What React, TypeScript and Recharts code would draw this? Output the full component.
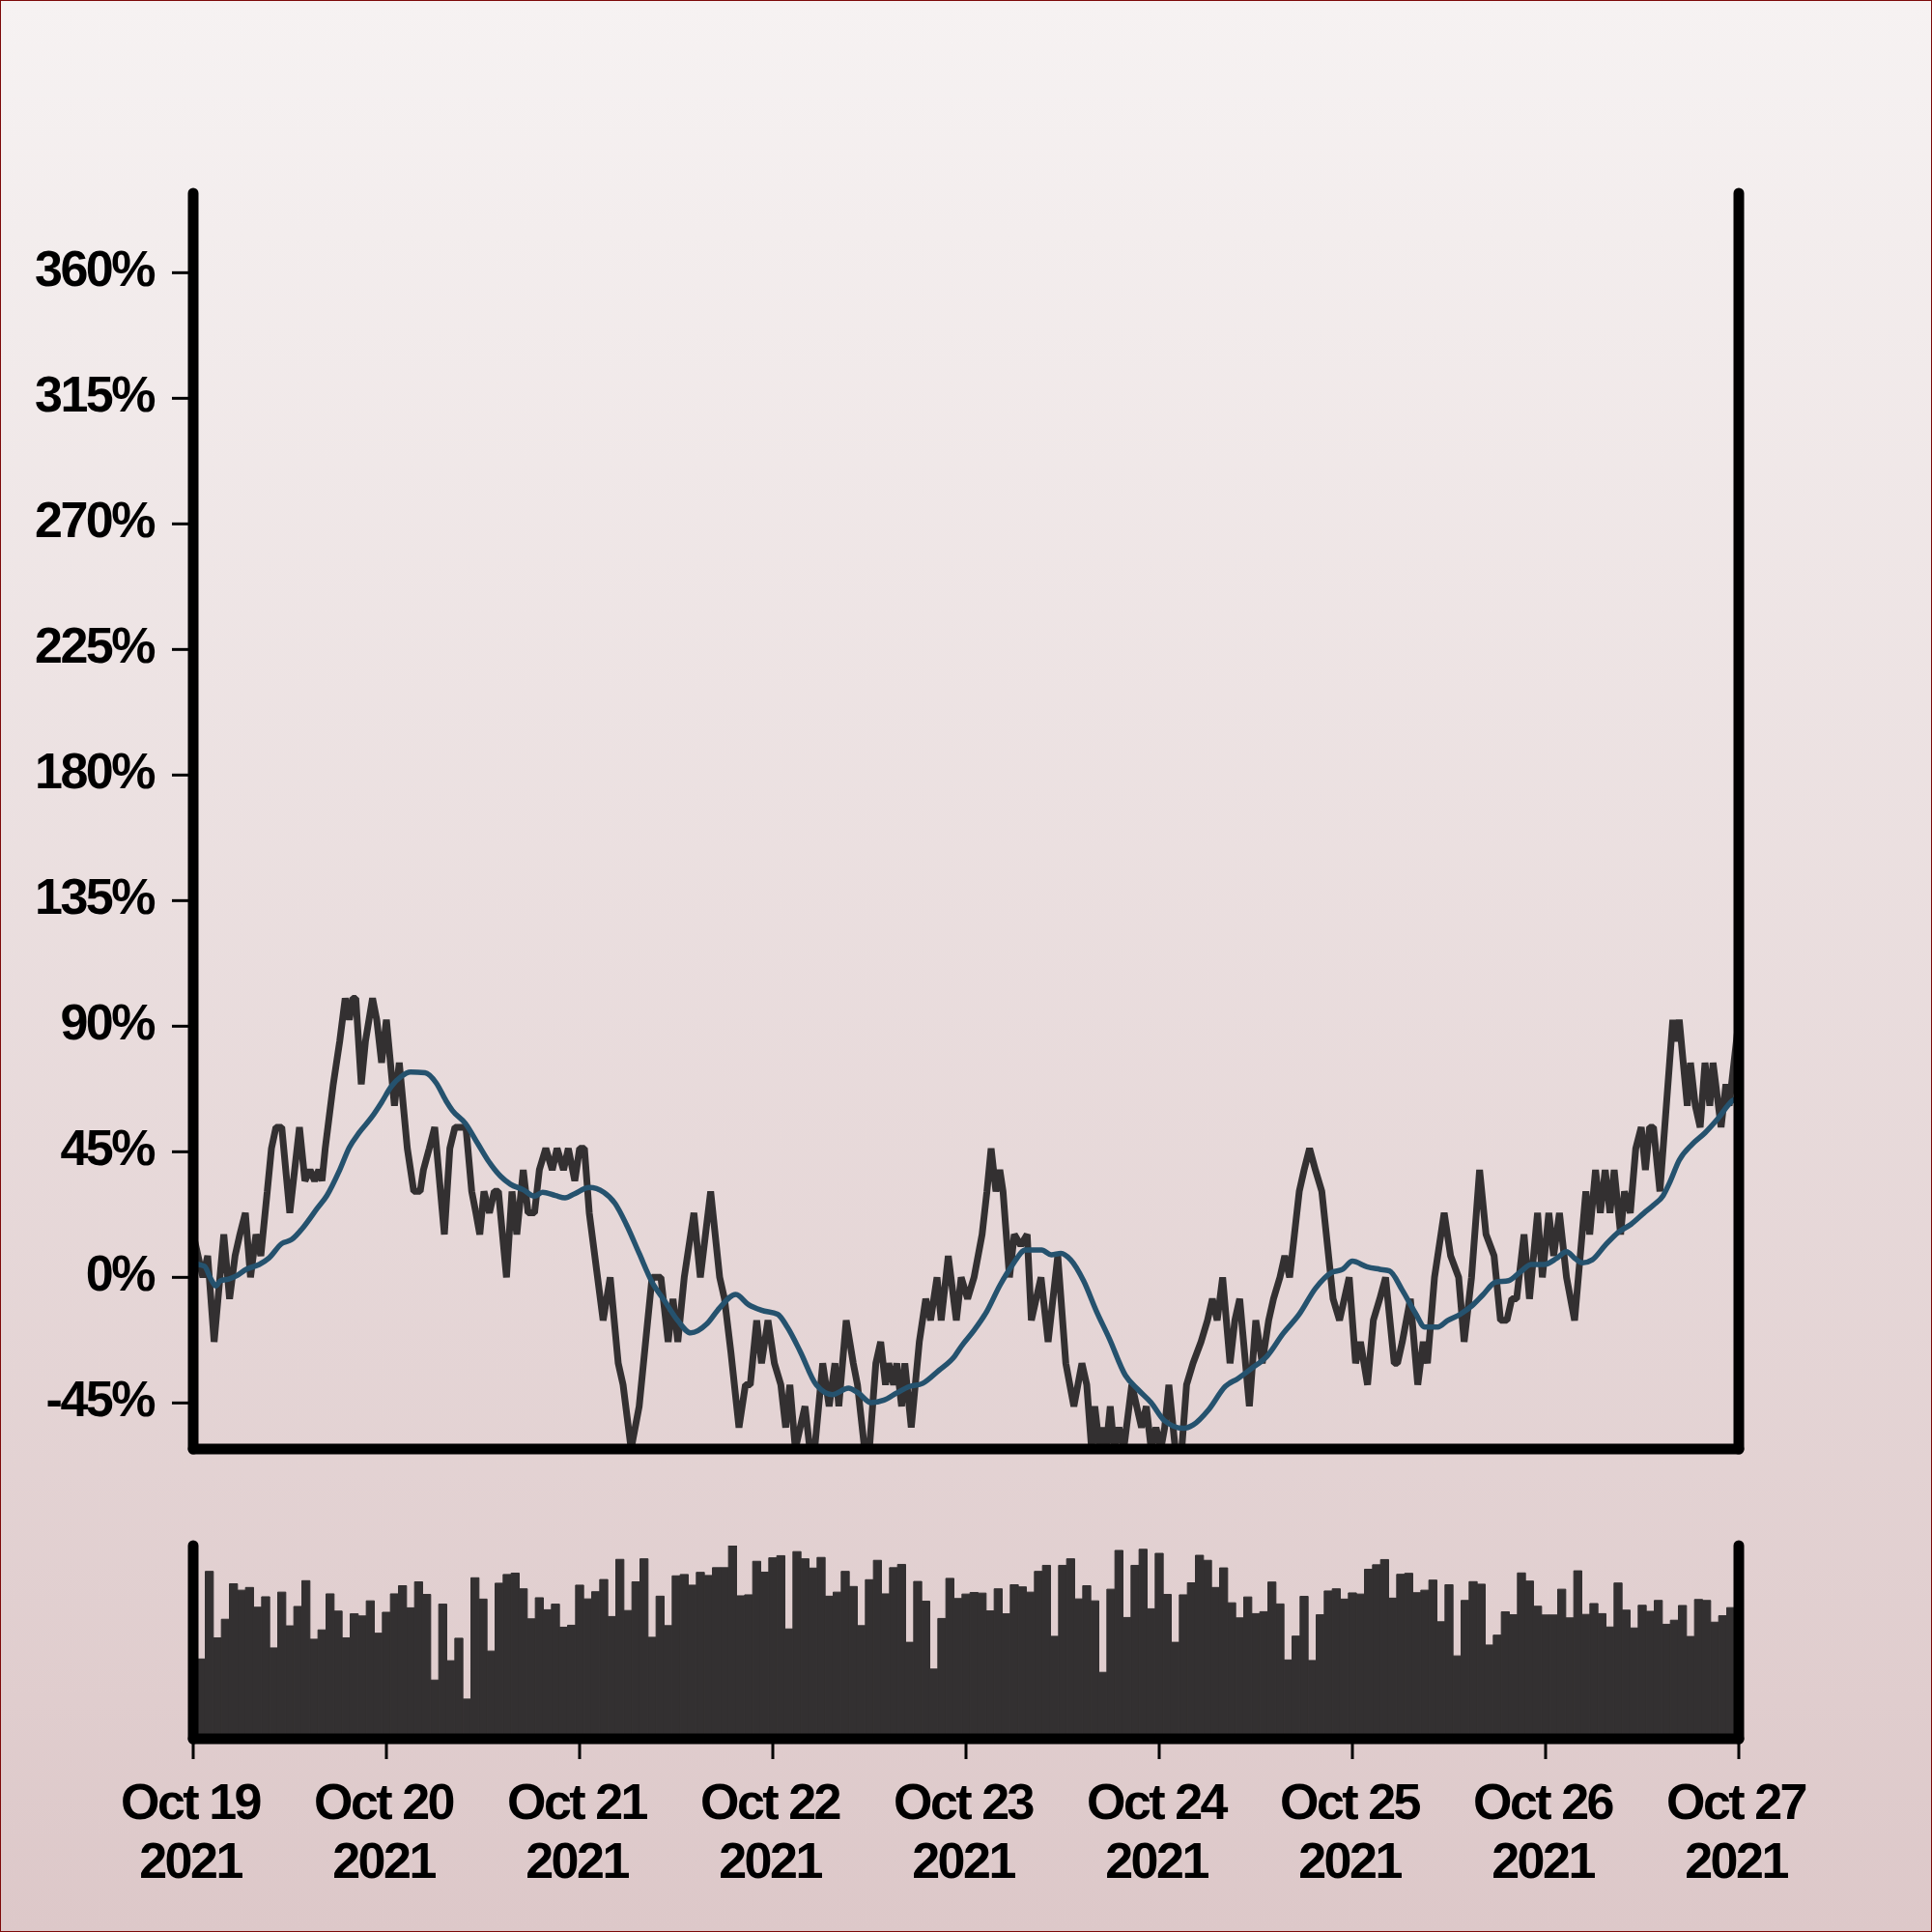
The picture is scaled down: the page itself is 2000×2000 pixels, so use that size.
import React from 'react';
import { ComposedChart, Line, Bar, XAxis, YAxis } from 'recharts';

// ---- axis labels ----
const dayTicks = [0, 24, 48, 72, 96, 120, 144, 168, 192];
const dayLabels = ['Oct 19', 'Oct 20', 'Oct 21', 'Oct 22', 'Oct 23', 'Oct 24', 'Oct 25', 'Oct 26', 'Oct 27'];
const yearLabels = ['2021', '2021', '2021', '2021', '2021', '2021', '2021', '2021', '2021'];
const pctTicks = [-45, 0, 45, 90, 135, 180, 225, 270, 315, 360];

// ---- price change (%) : hours since Oct 19 00:00 and value ----
const priceHours = [
  0, 1.2, 1.8, 2.6, 3.8, 4.52, 5.2, 5.8, 6.48, 7.12, 7.8, 8.4, 9.2, 9.72, 10.28, 11, 12, 13.2, 13.88, 14.52, 15.08, 15.6, 16, 16.4, 17.4, 18.2, 18.88, 19.4, 19.8, 20.2, 20.88, 21.4, 22.28, 22.8, 23.4, 24, 25, 25.6, 26.6, 27.4, 28.2, 28.6, 29.32, 30, 31.2, 31.88, 32.52, 33.88, 34.6, 35.12, 35.6, 36.12, 36.8, 37.4, 37.92, 38.92, 39.6, 40.2, 41, 41.6, 42.4, 43, 43.8, 44.6, 45.2, 46, 46.6, 47.4, 48,
  48.6, 49.2, 50.92, 51.8, 52.8, 53.4, 54.4, 55.4, 57, 58.1, 59, 59.6, 60.2, 61, 62.2, 63, 64.28, 65.4, 66, 66.8, 67.8, 68.6, 69.2, 70, 70.6, 71.4, 72.2, 73, 73.6, 74.12, 74.8, 75.4, 76, 76.6, 77.2, 78.2, 79, 79.72, 80.2, 81.12, 82, 82.52, 83.4, 84, 84.8, 85.4, 86, 86.4, 87, 87.4, 88, 88.4, 89.2, 90.2, 91, 91.6, 92.4, 92.92, 93.8, 94.8, 95.4, 96.2, 97,
  98, 98.6, 99.12, 99.72, 100.2, 100.6, 101.4, 102, 102.8, 103.6, 104.12, 104.72, 105.32, 106.2, 107.4, 108.4, 109.4, 110.4, 111, 111.6, 112, 112.6, 113, 113.4, 113.92, 114.4, 115, 115.6, 116.6, 117.2, 117.8, 118.4, 119, 119.6, 120.2, 120.68, 121.2, 122, 122.8, 123.4, 124.2, 125.2, 126, 126.6, 127.2, 127.88, 128.8, 129.4, 130, 131.2, 132, 132.8, 133.6, 134.2, 135, 135.6, 136.2, 136.8, 137.4, 138, 138.68, 139.4, 140.2, 141.6, 142.4, 143, 143.6,
  144.4, 145, 145.88, 146.6, 147.4, 148.12, 149.2, 149.6, 150.2, 151.2, 152.12, 152.8, 153.32, 154.2, 155.4, 156.2, 157.2, 157.88, 158.8, 159.8, 160.6, 161.6, 162.4, 163.2, 163.8, 164.4, 165.32, 166, 167, 167.6, 168.4, 169, 169.72, 170.6, 171.6, 173, 173.48, 174.2, 174.8, 175.4, 176, 176.52, 177.32, 177.8, 178.52, 179.2, 179.88, 180.4, 180.92, 181.4, 182.2, 183.8, 184.2, 184.6, 185.6, 186, 186.6, 187.2, 187.8, 188.4, 188.8, 189.8, 190.4, 190.8, 192,
];
const pricePct = [
  15.4, 0, 7.7, -23.1, 15.4, -7.7, 7.7, 15.4, 23.1, 0, 15.4, 7.7, 30.8, 46.2, 53.8, 53.8, 23.1, 53.8, 34.6, 38.5, 34.6, 38.5, 34.6, 46.2, 69.2, 84.6, 100, 92.3, 100, 100, 69.2, 84.6, 100, 92.3, 76.9, 92.3, 61.5, 76.9, 46.2, 30.8, 30.8, 38.5, 46.2, 53.8, 15.4, 46.2, 53.8, 53.8, 30.8, 23.1, 15.4, 30.8, 23.1, 30.8, 30.8, 0, 30.8, 15.4, 38.5, 23.1, 23.1, 38.5, 46.2, 38.5, 46.2, 38.5, 46.2, 34.6, 46.2,
  46.2, 23.1, -15.4, 0, -30.8, -38.5, -61.5, -46.2, 0, 0, -23.1, -7.7, -23.1, 0, 23.1, 0, 30.8, 0, -7.7, -26.9, -53.8, -38.5, -38.5, -15.4, -30.8, -15.4, -30.8, -38.5, -53.8, -38.5, -61.5, -53.8, -46.2, -61.5, -61.5, -30.8, -46.2, -30.8, -46.2, -15.4, -30.8, -38.5, -61.5, -61.5, -30.8, -23.1, -38.5, -30.8, -38.5, -30.8, -46.2, -30.8, -53.8, -23.1, -7.7, -15.4, 0, -15.4, 7.7, -15.4, 0, -7.7, 0,
  15.4, 30.8, 46.2, 30.8, 38.5, 30.8, 0, 15.4, 11.5, 15.4, -15.4, -7.7, 0, -23.1, 7.7, -30.8, -46.2, -30.8, -38.5, -61.5, -46.2, -61.5, -53.8, -61.5, -46.2, -61.5, -53.8, -61.5, -38.5, -46.2, -53.8, -46.2, -61.5, -53.8, -61.5, -53.8, -38.5, -61.5, -61.5, -38.5, -30.8, -23.1, -15.4, -7.7, -15.4, 0, -30.8, -15.4, -7.7, -46.2, -15.4, -30.8, -15.4, -7.7, 0, 7.7, 0, 15.4, 30.8, 38.5, 46.2, 38.5, 30.8, -7.7, -15.4, -7.7, 0,
  -30.8, -23.1, -38.5, -15.4, -7.7, 0, -30.8, -30.8, -23.1, -7.7, -38.5, -23.1, -30.8, 0, 23.1, 7.7, 0, -23.1, 0, 38.5, 15.4, 7.7, -15.4, -15.4, -7.7, -7.7, 15.4, -7.7, 23.1, 0, 23.1, 7.7, 23.1, 0, -15.4, 30.8, 15.4, 38.5, 23.1, 38.5, 23.1, 38.5, 15.4, 30.8, 23.1, 46.2, 53.8, 38.5, 53.8, 53.8, 30.8, 92.3, 84.6, 92.3, 61.5, 76.9, 61.5, 53.8, 76.9, 61.5, 76.9, 53.8, 69.2, 61.5, 92.3,
];

// ---- moving average (%) ----
const maHours = [
  0, 0.72, 1.4, 2.2, 2.8, 3.4, 4.4, 5.4, 6.6, 8.2, 9.4, 11, 12.2, 13.8, 15.4, 16.6, 18.2, 19.4, 20.6, 22.2, 23.4, 24.6, 25.8, 27, 28.8, 30.2, 31.4, 32.2, 33.8, 35.4, 36.6, 38.2, 39.4, 41, 42.4, 43.4, 45, 46.2, 47.4,
  49.2, 51, 52.4, 53.8, 55.4, 57, 58.6, 60.2, 61.8, 63.8, 65.4, 67.4, 69, 70.6, 72.6, 73.8, 75.4, 77.4, 79.4, 81.4, 82.6, 84.2, 85.8, 87.4, 89, 90.6, 92.6, 94.6,
  95.4, 97, 98.6, 100.2, 101.8, 103.4, 105.4, 106.6, 107.8, 109, 110.6, 112.2, 113.8, 115.8, 117.4, 119, 120.6, 123, 124.2, 126.2, 128.2, 129.8, 131.4, 133.4, 135.4, 137.4, 139.4, 141.4, 142.8,
  144, 145.8, 147.4, 148.6, 150.2, 151.8, 153, 154.6, 155.8, 157.4, 159, 160.2, 161.8, 163.4, 165, 166.2, 167.8, 169.4, 170.6, 171.6, 172.6, 173.8, 175.4, 177, 178.6, 180.2, 181.4, 182.6, 183.4, 184.6, 186.2, 187.8, 189.4, 191.2, 192,
];
const maPct = [
  5.5, 4.6, 4.0, -0.6, -3.1, -1.2, -0.6, 0.6, 2.9, 4.6, 6.9, 12.1, 13.5, 18.4, 24.7, 29.3, 38.5, 46.6, 51.8, 57.5, 62.7, 68.4, 71.9, 73.6, 73.3, 69.6, 63.3, 59.8, 55.2, 47.7, 42.0, 36.2, 33.4, 31.4, 29.1, 30.5, 29.3, 28.5, 30.0,
  32.2, 30.5, 26.5, 19.0, 8.6, -1.7, -8.6, -15.5, -19.9, -16.7, -10.9, -6.1, -9.8, -11.8, -13.2, -17.8, -26.5, -38.5, -42.0, -39.7, -41.4, -44.9, -44.0, -41.4, -39.1, -38.0, -33.4, -28.2,
  -24.8, -19.0, -12.1, -2.9, 4.6, 9.8, 9.8, 8.1, 8.6, 6.3, -1.2, -12.1, -21.9, -35.1, -40.3, -44.9, -51.2, -54.1, -52.9, -47.2, -39.1, -36.2, -32.8, -28.2, -20.1, -13.2, -4.0, 1.7, 2.9,
  5.8, 3.8, 2.9, 2.3, -4.6, -12.7, -17.8, -17.8, -15.5, -13.2, -9.8, -6.3, -1.7, -1.2, 2.3, 4.6, 4.6, 6.9, 9.2, 6.9, 5.2, 6.3, 11.5, 16.1, 19.0, 23.0, 25.9, 29.3, 33.9, 42.0, 47.7, 51.8, 56.9, 63.3, 64.5,
];

// ---- hourly volume (relative units) ----
const volume = [
  65.3, 41.2, 86.4, 52.1, 61.7, 80.0, 76.7, 78.1, 67.9, 73.3, 46.9, 75.7, 58.3, 68.3, 81.6, 51.4, 56.2, 74.8, 65.9, 52.1, 64.5, 63.4, 71.2, 54.5,
  65.3, 74.8, 79.0, 67.6, 81.0, 74.5, 30.3, 69.5, 40.3, 51.9, 20.5, 83.1, 72.1, 45.3, 80.3, 84.8, 85.5, 77.4, 61.9, 72.8, 66.6, 69.5, 57.6, 58.6,
  79.3, 72.2, 75.9, 82.2, 63.1, 92.6, 66.2, 81.0, 92.9, 52.4, 73.6, 58.4, 84.1, 84.8, 79.3, 85.9, 84.3, 88.3, 88.3, 99.7, 73.8, 74.3, 91.6, 86.0,
  93.4, 94.5, 56.7, 96.6, 92.9, 88.1, 93.6, 73.6, 75.7, 86.4, 78.6, 58.4, 82.1, 92.1, 74.8, 88.3, 90.0, 49.8, 81.2, 71.0, 36.0, 62.1, 82.8, 72.4,
  74.7, 75.5, 75.2, 66.0, 77.4, 64.5, 79.5, 78.4, 75.7, 86.4, 89.5, 52.9, 89.5, 92.9, 72.2, 79.0, 71.2, 34.3, 77.2, 97.2, 62.6, 89.5, 97.8, 67.1,
  95.7, 74.5, 49.8, 74.3, 80.5, 94.7, 92.1, 78.1, 88.2, 70.2, 62.4, 73.2, 64.6, 65.6, 80.9, 69.6, 40.7, 53.0, 73.5, 40.4, 64.0, 76.3, 77.4, 72.1,
  75.3, 74.7, 87.5, 89.8, 92.5, 72.6, 84.9, 85.4, 75.4, 76.7, 81.9, 60.4, 79.5, 42.8, 71.4, 81.1, 79.8, 48.4, 53.5, 65.5, 64.0, 85.6, 81.4, 68.4,
  63.9, 63.9, 77.2, 62.4, 86.7, 64.2, 69.8, 64.6, 57.7, 80.4, 66.4, 57.2, 68.9, 65.8, 71.4, 59.1, 61.2, 68.8, 52.8, 71.9, 71.4, 60.2, 63.5, 67.7,
  67.7,
];

const priceData = priceHours.slice(0, Math.min(priceHours.length, pricePct.length)).map((t, i) => ({ t, v: pricePct[i] }));
const maData = maHours.slice(0, Math.min(maHours.length, maPct.length)).map((t, i) => ({ t, ma: maPct[i] }));
const volData = volume.map((vol, i) => ({ t: i, vol }));

const labelFont: React.CSSProperties = {
  fontFamily: '"Liberation Sans", Arial, Helvetica, sans-serif',
  fontWeight: 700,
  fontSize: 52,
  letterSpacing: -2.5,
};

const axisLineStyle = { stroke: '#000', strokeWidth: 11, strokeLinecap: 'round' as const };

const YTick = (props: any) => {
  const { y, payload } = props;
  return (
    <text x={159} y={y + 14} textAnchor="end" fill="#000" style={labelFont}>
      {`${payload.value}%`}
    </text>
  );
};

const XTick = (props: any) => {
  const { x, payload } = props;
  const i = dayTicks.indexOf(payload.value);
  return (
    <text textAnchor="middle" fill="#000" style={labelFont}>
      <tspan x={x - 3} y={343}>{dayLabels[i]}</tspan>
      <tspan x={x - 3} y={404}>{yearLabels[i]}</tspan>
    </text>
  );
};

export default function App() {
  return (
    <div
      style={{
        position: 'absolute',
        left: 0,
        top: 0,
        width: 2000,
        height: 2000,
        background: 'linear-gradient(to bottom, #f6f2f2 0%, #ddc8c9 100%)',
        boxShadow: 'inset 0 0 0 1px #7d0a0a',
        overflow: 'hidden',
      }}
    >
      <div style={{ position: 'absolute', left: 0, top: 0 }}>
        <ComposedChart width={2000} height={1540} margin={{ top: 200, right: 80, bottom: 0, left: 80 }}>
          <XAxis
            type="number"
            dataKey="t"
            domain={[0, 192]}
            ticks={dayTicks}
            allowDataOverflow
            height={40}
            tick={false}
            tickLine={false}
            axisLine={axisLineStyle}
          />
          <YAxis
            yAxisId="l"
            type="number"
            domain={[-61.5, 388.5]}
            ticks={pctTicks}
            interval={0}
            allowDataOverflow
            width={120}
            tickSize={22}
            tickLine={{ stroke: '#000', strokeWidth: 3 }}
            axisLine={axisLineStyle}
            tick={<YTick />}
          />
          <YAxis
            yAxisId="r"
            orientation="right"
            type="number"
            domain={[0, 1]}
            width={120}
            tick={false}
            tickLine={false}
            axisLine={axisLineStyle}
          />
          <Line
            yAxisId="l"
            data={priceData}
            dataKey="v"
            type="linear"
            stroke="#333031"
            strokeWidth={7}
            strokeLinejoin="bevel"
            dot={false}
            activeDot={false}
            isAnimationActive={false}
          />
          <Line
            yAxisId="l"
            data={maData}
            dataKey="ma"
            type="monotone"
            stroke="#25526e"
            strokeWidth={5.5}
            dot={false}
            activeDot={false}
            isAnimationActive={false}
          />
        </ComposedChart>
      </div>
      <div style={{ position: 'absolute', left: 0, top: 1540 }}>
        <ComposedChart width={2000} height={460} data={volData} margin={{ top: 60, right: 80, bottom: 0, left: 80 }}>
          <XAxis
            type="number"
            dataKey="t"
            domain={[0, 192]}
            ticks={dayTicks}
            interval={0}
            height={200}
            tickSize={21}
            tickLine={{ stroke: '#000', strokeWidth: 3 }}
            axisLine={axisLineStyle}
            tick={<XTick />}
          />
          <YAxis
            yAxisId="l"
            type="number"
            domain={[0, 99.7]}
            allowDataOverflow
            width={120}
            tick={false}
            tickLine={false}
            axisLine={axisLineStyle}
          />
          <YAxis
            yAxisId="r"
            orientation="right"
            type="number"
            domain={[0, 1]}
            width={120}
            tick={false}
            tickLine={false}
            axisLine={axisLineStyle}
          />
          <Bar
            yAxisId="l"
            dataKey="vol"
            fill="#333031"
            stroke="#333031"
            strokeWidth={1}
            barSize={8.33}
            isAnimationActive={false}
          />
        </ComposedChart>
      </div>
    </div>
  );
}
